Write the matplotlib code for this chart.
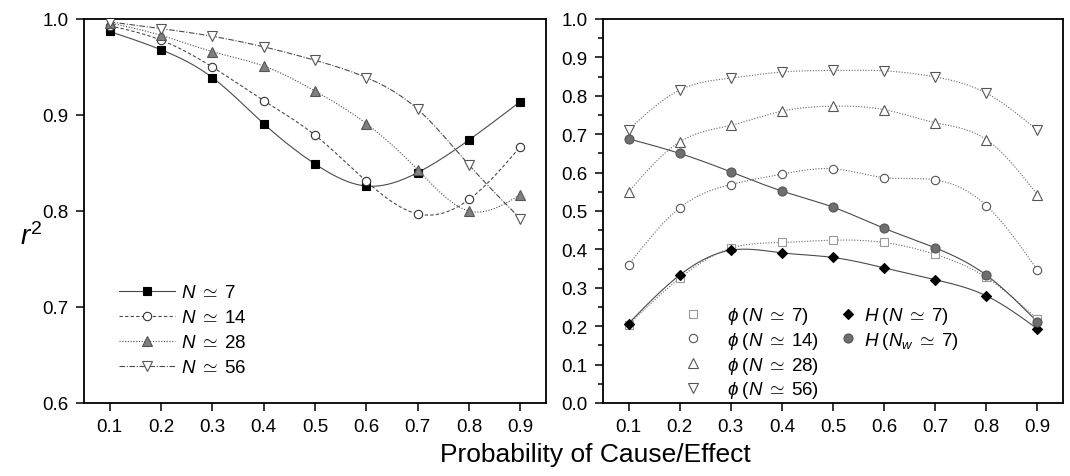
import numpy as np
import matplotlib
matplotlib.use("Agg")
import matplotlib.pyplot as plt
from matplotlib.ticker import MultipleLocator, FormatStrFormatter
from matplotlib.lines import Line2D

plt.rcParams['font.family'] = ['Liberation Sans', 'DejaVu Sans']
plt.rcParams['mathtext.fontset'] = 'custom'
plt.rcParams['mathtext.rm'] = 'Liberation Sans'
plt.rcParams['mathtext.it'] = 'Liberation Sans:italic'
plt.rcParams['mathtext.bf'] = 'Liberation Sans:bold'

# ---------------- data ----------------
prob = [0.1, 0.2, 0.3, 0.4, 0.5, 0.6, 0.7, 0.8, 0.9]

# left panel: r^2
r2_n7 = [0.987, 0.968, 0.939, 0.891, 0.849, 0.826, 0.840, 0.874, 0.914]
r2_n14 = [0.993, 0.978, 0.950, 0.915, 0.879, 0.831, 0.797, 0.812, 0.867]
r2_n28 = [0.996, 0.983, 0.966, 0.951, 0.925, 0.891, 0.843, 0.800, 0.817]
r2_n56 = [0.997, 0.990, 0.982, 0.971, 0.957, 0.939, 0.906, 0.848, 0.792]

# right panel
phi_n7 = [0.204, 0.325, 0.403, 0.418, 0.424, 0.418, 0.387, 0.327, 0.218]
phi_n14 = [0.360, 0.508, 0.569, 0.596, 0.610, 0.587, 0.581, 0.514, 0.346]
phi_n28 = [0.550, 0.680, 0.723, 0.760, 0.773, 0.764, 0.730, 0.686, 0.542]
phi_n56 = [0.712, 0.815, 0.846, 0.862, 0.866, 0.865, 0.849, 0.807, 0.710]
h_n7 = [0.207, 0.333, 0.398, 0.391, 0.379, 0.352, 0.321, 0.279, 0.193]
h_nw7 = [0.688, 0.650, 0.602, 0.552, 0.510, 0.455, 0.404, 0.333, 0.211]

left_labels = [r'$N\;\simeq\;7$', r'$N\;\simeq\;14$', r'$N\;\simeq\;28$', r'$N\;\simeq\;56$']
phi_labels = [r'$\phi\;(N\;\simeq\;7)$', r'$\phi\;(N\;\simeq\;14)$',
              r'$\phi\;(N\;\simeq\;28)$', r'$\phi\;(N\;\simeq\;56)$']
h_labels = [r'$H\;(N\;\simeq\;7)$', r'$H\;(N_w\;\simeq\;7)$']
xlabel = 'Probability of Cause/Effect'
ylabel = r'$r^2$'
xticks = [0.1, 0.2, 0.3, 0.4, 0.5, 0.6, 0.7, 0.8, 0.9]


def spline(x, y, n=300):
    """Natural cubic spline through the points (for drawing the smooth line)."""
    x = np.asarray(x, float)
    y = np.asarray(y, float)
    k = len(x)
    h = np.diff(x)
    A = np.zeros((k, k))
    b = np.zeros(k)
    A[0, 0] = 1
    A[-1, -1] = 1
    for i in range(1, k - 1):
        A[i, i - 1] = h[i - 1]
        A[i, i] = 2 * (h[i - 1] + h[i])
        A[i, i + 1] = h[i]
        b[i] = 3 * ((y[i + 1] - y[i]) / h[i] - (y[i] - y[i - 1]) / h[i - 1])
    c = np.linalg.solve(A, b)
    xs = np.linspace(x[0], x[-1], n)
    ys = np.empty_like(xs)
    for j, xv in enumerate(xs):
        i = min(np.searchsorted(x, xv, side='right') - 1, k - 2)
        i = max(i, 0)
        dx = xv - x[i]
        bi = (y[i + 1] - y[i]) / h[i] - h[i] * (2 * c[i] + c[i + 1]) / 3
        di = (c[i + 1] - c[i]) / (3 * h[i])
        ys[j] = y[i] + bi * dx + c[i] * dx ** 2 + di * dx ** 3
    return xs, ys


fig = plt.figure(figsize=(10.70, 4.77), dpi=100)
W, H = 1070, 477
axL = fig.add_axes([84 / W, (H - 404) / H, 462 / W, 384 / H])
axR = fig.add_axes([603 / W, (H - 404) / H, 460 / W, 384 / H])

line_col = '#4a4a4a'
FS = 13.5

# ---------- left panel ----------
left_series = [r2_n7, r2_n14, r2_n28, r2_n56]
left_ls = ['-', (0, (3, 2)), (0, (1, 1.5)), (0, (5, 1.5, 1, 1.5))]
left_mk = ['s', 'o', '^', 'v']
left_ms = [5.5, 6, 6.5, 6.5]
left_fc = ['black', 'white', '#808080', 'white']
left_ec = ['black', '#333333', '#555555', '#555555']
handles = []
for ys, ls, mk, ms, fc, ec, lab in zip(left_series, left_ls, left_mk, left_ms, left_fc,
                                       left_ec, left_labels):
    sx, sy = spline(prob, ys)
    axL.plot(sx, sy, color=line_col, lw=0.8, ls=ls, zorder=2)
    axL.plot(prob, ys, ls='none', marker=mk, ms=ms, mfc=fc, mec=ec, mew=0.8, zorder=3)
    handles.append(Line2D([], [], color=line_col, lw=0.8, ls=ls, marker=mk, ms=ms,
                          mfc=fc, mec=ec, mew=0.8, label=lab))
axL.legend(handles=handles, loc='upper left', bbox_to_anchor=(0.075, 0.31), frameon=False,
           fontsize=FS, handlelength=3.0, handletextpad=0.35, labelspacing=0.42,
           borderaxespad=0, borderpad=0)
axL.set_xlim(0.05, 0.95)
axL.set_ylim(0.6, 1.0)
axL.set_xticks(xticks)
axL.yaxis.set_major_locator(MultipleLocator(0.1))
axL.text(-0.115, 0.435, ylabel, transform=axL.transAxes, fontsize=20,
         ha='center', va='center')

# ---------- right panel ----------
phi_series = [phi_n7, phi_n14, phi_n28, phi_n56]
phi_mk = ['s', 'o', '^', 'v']
phi_ms = [5.5, 6, 6.5, 6.5]
phi_ec = ['#999999', '#555555', '#555555', '#555555']
rh_phi = []
for ys, mk, ms, ec, lab in zip(phi_series, phi_mk, phi_ms, phi_ec, phi_labels):
    sx, sy = spline(prob, ys)
    axR.plot(sx, sy, color='#666666', lw=0.8, ls=(0, (1, 1.5)), zorder=2)
    axR.plot(prob, ys, ls='none', marker=mk, ms=ms, mfc='white', mec=ec, mew=0.8, zorder=3)
    rh_phi.append(Line2D([], [], ls='none', marker=mk, ms=ms, mfc='white', mec=ec, mew=0.8,
                         label=lab))

rh_h = []
for ys, mk, fc, ec, ms, lab in zip([h_n7, h_nw7], ['D', 'o'], ['black', '#6e6e6e'],
                                   ['black', '#555555'], [5.5, 6.5], h_labels):
    sx, sy = spline(prob, ys)
    axR.plot(sx, sy, color=line_col, lw=0.8, ls='-', zorder=2)
    axR.plot(prob, ys, ls='none', marker=mk, ms=ms, mfc=fc, mec=ec, mew=0.8, zorder=4)
    rh_h.append(Line2D([], [], ls='none', marker=mk, ms=ms, mfc=fc, mec=ec, mew=0.8, label=lab))

leg1 = axR.legend(handles=rh_phi, loc='upper left', bbox_to_anchor=(0.175, 0.255),
                  frameon=False, fontsize=FS, handlelength=1.0, handletextpad=1.3,
                  labelspacing=0.2, borderaxespad=0, borderpad=0)
axR.add_artist(leg1)
axR.legend(handles=rh_h, loc='upper left', bbox_to_anchor=(0.513, 0.255),
           frameon=False, fontsize=FS, handlelength=1.0, handletextpad=0.35,
           labelspacing=0.2, borderaxespad=0, borderpad=0)
axR.set_xlim(0.05, 0.95)
axR.set_ylim(0.0, 1.0)
axR.set_xticks(xticks)
axR.yaxis.set_major_locator(MultipleLocator(0.1))
axR.yaxis.set_minor_locator(MultipleLocator(0.05))

for ax in (axL, axR):
    for sp in ax.spines.values():
        sp.set_linewidth(1.3)
    ax.tick_params(axis='both', which='major', direction='out', length=6, width=1.1,
                   labelsize=FS, pad=5)
    ax.tick_params(axis='y', which='minor', direction='out', length=3.5, width=1.1)
    ax.tick_params(top=False, right=False)
    ax.xaxis.set_major_formatter(FormatStrFormatter('%.1f'))
    ax.yaxis.set_major_formatter(FormatStrFormatter('%.1f'))

fig.text(595 / W, 1 - 455 / H, xlabel, ha='center', va='center', fontsize=19)

fig.savefig('out.png', dpi=100)
